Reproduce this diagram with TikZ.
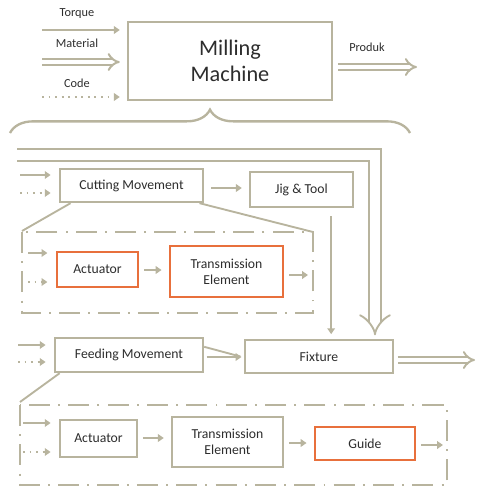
\documentclass[tikz,border=0pt]{standalone}
\usepackage{fontspec}
\setmainfont{Carlito}
\usepackage{tikz}
\usetikzlibrary{arrows.meta,positioning,calc,decorations.pathreplacing}
\definecolor{wiregray}{RGB}{184,180,158}
\definecolor{partorange}{RGB}{232,112,60}
\definecolor{inktext}{RGB}{45,45,45}
\tikzset{
    millbox/.style={draw=wiregray, line width=2pt, fill=white, align=center, text=inktext, font=\fontsize{19}{22}\selectfont, minimum width=6.12cm, minimum height=2.34cm},
    partbox/.style={draw=wiregray, line width=2pt, fill=white, align=center, text=inktext, font=\fontsize{11.7}{13.5}\selectfont, inner sep=1pt},
    hotbox/.style={partbox, draw=partorange, line width=2.4pt},
    flowlabel/.style={text=inktext, font=\fontsize{10.5}{12}\selectfont},
    flowarrow/.style={draw=wiregray, line width=1.6pt, -{Triangle[length=5pt,width=6.5pt]}},
    codearrow/.style={flowarrow, dash pattern=on 1.6pt off 4pt},
    stuffarrow/.style={draw=wiregray, line width=1.7pt, double=white, double distance=3.4pt, -{Implies}},
    groupframe/.style={draw=wiregray, line width=1.6pt, dash pattern=on 18pt off 7pt on 1.6pt off 7pt},
    funnel/.style={draw=wiregray, line width=1.6pt}
}

\begin{document}
\begin{tikzpicture}[x=0.03cm, y=-0.03cm]
        \useasboundingbox (0,0) rectangle (477,491);

        % top level
        \node[millbox] (mill) at (230,61) {Milling\\Machine};
        \coordinate (torquein) at (42,30);
        \coordinate (materialin) at (42,62);
        \coordinate (codein) at (42,97);
        \coordinate (produkout) at (417,67);
        \node[flowlabel] (torque) at (77,14) {Torque};
        \node[flowlabel] (material) at (77,43) {Material};
        \node[flowlabel] (code) at (77,83) {Code};
        \node[flowlabel] (produk) at (367,47) {Produk};
        \draw[flowarrow] (torquein) -- ([xshift=-6]mill.west |- torquein);
        \draw[stuffarrow] (materialin) -- ([xshift=-6]mill.west |- materialin);
        \draw[codearrow] (codein) -- ([xshift=-6]mill.west |- codein);
        \draw[stuffarrow] ([xshift=4]mill.east |- produkout) -- (produkout);

        \draw[funnel, line width=2pt, decorate, decoration={brace, amplitude=0.7cm}] (10,133) -- (410,133);

        % cutting branch
        \node[partbox, minimum width=4.29cm, minimum height=0.99cm] (cut) at (131.5,185.5) {Cutting Movement};
        \node[partbox, minimum width=3.09cm, minimum height=1.05cm] (jig) at (301.5,189.5) {Jig \& Tool};
        \node[hotbox, minimum width=2.43cm, minimum height=1.05cm] (act1) at (97.5,269.5) {Actuator};
        \node[hotbox, minimum width=3.39cm, minimum height=1.53cm] (trans1) at (226.5,271.5) {Transmission\\Element};
        \draw[groupframe] (22,232) rectangle (313,313);
        \draw[funnel] ([xshift=10]cut.south west) -- (22,231);
        \draw[funnel] ([xshift=-4]cut.south east) -- (313,232);

        % feeding branch
        \node[partbox, minimum width=4.44cm, minimum height=1.02cm] (feed) at (129,355) {Feeding Movement};
        \node[partbox, minimum width=4.44cm, minimum height=0.99cm] (fix) at (319,356.5) {Fixture};
        \node[partbox, minimum width=2.31cm, minimum height=1.11cm] (act2) at (98.5,438.5) {Actuator};
        \node[partbox, minimum width=3.33cm, minimum height=1.5cm] (trans2) at (227.5,442) {Transmission\\Element};
        \node[hotbox, minimum width=3.0cm, minimum height=0.99cm] (guide) at (365,443.5) {Guide};
        \draw[groupframe] (20,405) rectangle (447,485);
        \draw[funnel] ([xshift=5]feed.south west) -- (20,402);

        % signal inputs
        \foreach \src/\sy/\dy/\dst in {20/175/193/cut, 28/253/282/act1, 18/345/362/feed, 23/423/452/act2} {
            \coordinate (in-\dst) at (\src,\sy);
            \coordinate (cin-\dst) at (\src,\dy);
            \draw[flowarrow] (in-\dst) -- ([xshift=-7]\dst.west |- in-\dst);
            \draw[codearrow] (cin-\dst) -- ([xshift=-7]\dst.west |- cin-\dst);
        }

        % internal flow
        \coordinate (trans1out) at (308,275);
        \coordinate (guideout) at (443,445);
        \coordinate (fixout) at (475,360);
        \draw[flowarrow, shorten <=6pt, shorten >=6pt] (cut.east |- 0,188) -- (jig.west |- 0,188);
        \draw[flowarrow, shorten <=4pt, shorten >=6pt] (act1.east |- 0,270) -- (trans1.west |- 0,270);
        \draw[flowarrow, shorten <=4pt] (trans1.east |- trans1out) -- (trans1out);
        \draw[flowarrow, shorten <=4pt, shorten >=6pt] (act2.east |- 0,438) -- (trans2.west |- 0,438);
        \draw[flowarrow, shorten <=4pt, shorten >=6pt] (trans2.east |- 0,443) -- (guide.west |- 0,443);
        \draw[flowarrow, shorten <=4pt] (guide.east |- guideout) -- (guideout);
        \draw[flowarrow, shorten <=2pt, shorten >=2pt] (feed.east |- 0,357) -- (fix.west |- 0,357);
        \draw[funnel] ([yshift=7pt]feed.east) -- ([xshift=-3pt]fix.west);
        \draw[stuffarrow] ([xshift=3]fix.east |- fixout) -- (fixout);

        % tools and work piece down to fixture
        \coordinate (jigdown) at ($(jig.south east)+(-23,8)$);
        \draw[flowarrow, shorten >=4pt] (jigdown) -- (jigdown |- fix.north);
        \coordinate (stockin) at (17,155);
        \draw[stuffarrow, line width=1.6pt, double distance=8pt, line join=miter] (stockin) -- (375,155) -- ([yshift=3pt]fix.north -| 375,0);
\end{tikzpicture}
\end{document}
